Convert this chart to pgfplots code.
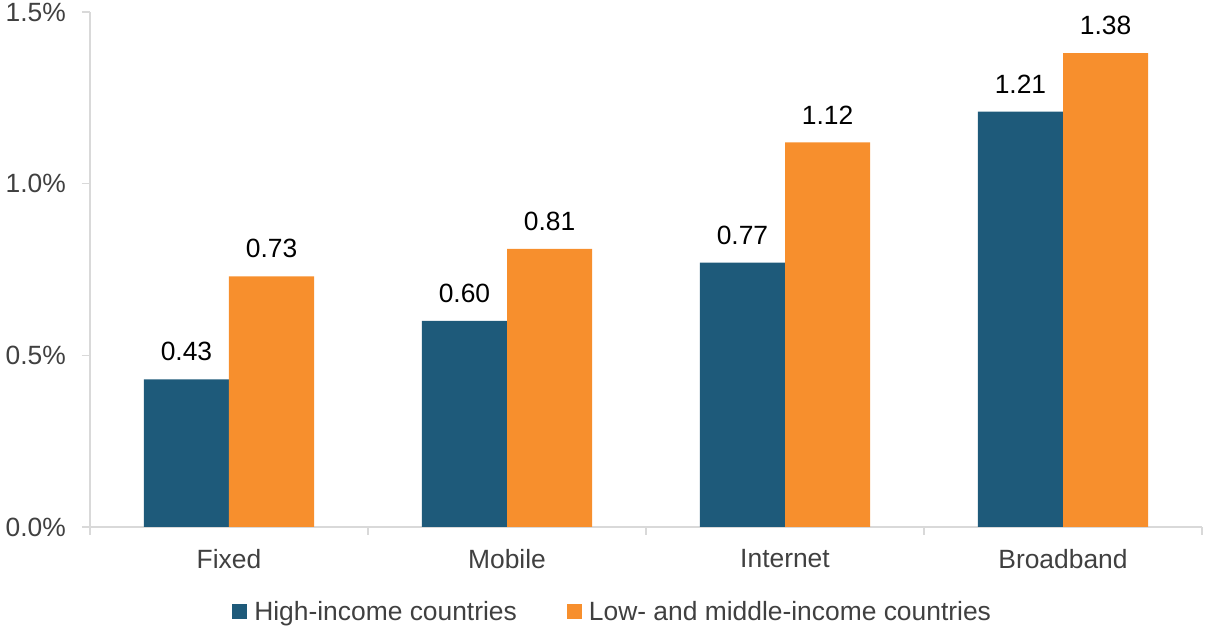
\documentclass[border=0pt]{standalone}
\usepackage{fontspec}
\setmainfont{Liberation Sans}
\usepackage{pgfplots}
\pgfplotsset{compat=1.18}
\definecolor{hiblue}{RGB}{30,90,122}
\definecolor{lmorange}{RGB}{247,143,45}
\definecolor{txtgray}{RGB}{64,64,64}
\definecolor{axgray}{RGB}{217,217,217}
\begin{document}
\begin{tikzpicture}
\begin{axis}[
  scale only axis,
  width=1112pt, height=515pt,
  ybar=0pt,
  bar width=0.306,
  xmin=-0.5, xmax=3.5,
  ymin=0, ymax=1.5,
  axis x line*=bottom, axis y line*=left,
  axis line style={axgray, line width=1.5pt},
  tick align=outside,
  major tick length=8pt,
  tick style={axgray, line width=1.5pt},
  xtick={-0.5,0.5,1.5,2.5,3.5},
  xticklabels={Fixed,Mobile,Internet,Broadband},
  x tick label as interval=true,
  ytick={0,0.5,1,1.5},
  yticklabels={0.0\%,0.5\%,1.0\%,1.5\%},
  tick label style={font=\fontsize{26.4}{30}\selectfont, text=txtgray},
  xticklabel style={inner sep=0pt, yshift=-14pt},
  yticklabel style={inner sep=0pt, xshift=-16pt},
  point meta=explicit symbolic,
  nodes near coords={\pgfplotspointmeta},
  every node near coord/.append style={font=\fontsize{26.4}{30}\selectfont, text=black, inner sep=0pt, yshift=18pt},
  legend columns=2,
  legend style={draw=none, at={(0.470,-0.165)}, anchor=center,
    font=\fontsize{26.4}{30}\selectfont, text=txtgray,
    /tikz/every even column/.append style={column sep=48pt}},
  legend image code/.code={\fill[#1] (0pt,-7.5pt) rectangle (15pt,7.5pt); \path (20pt,0pt);},
]
\addplot[fill=hiblue, draw=none] coordinates {(0,0.43) [0.43] (1,0.60) [0.60] (2,0.77) [0.77] (3,1.21) [1.21]};
\addplot[fill=lmorange, draw=none] coordinates {(0,0.73) [0.73] (1,0.81) [0.81] (2,1.12) [1.12] (3,1.38) [1.38]};
\legend{High-income countries, Low- and middle-income countries}
\end{axis}
\pgfresetboundingbox
\path ([shift={(-90pt,-103pt)}]current axis.south west) rectangle ([shift={(3pt,12pt)}]current axis.north east);
\end{tikzpicture}
\end{document}
